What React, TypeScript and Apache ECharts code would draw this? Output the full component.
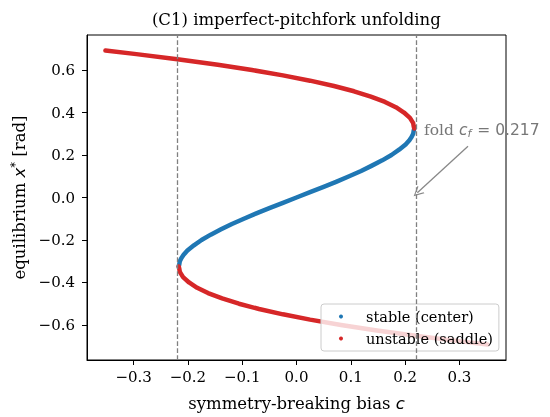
import React, { useEffect, useRef } from "react";
import * as echarts from "echarts";

// tick labels
const xTicks = [-0.3, -0.2, -0.1, 0.0, 0.1, 0.2, 0.3];
const yTicks = [-0.6, -0.4, -0.2, 0.0, 0.2, 0.4, 0.6];

// stable branch (center): bias c, equilibrium x*
const stableC = [-0.217, -0.216, -0.215, -0.212, -0.208, -0.201, -0.189, -0.175, -0.158, -0.139, -0.119, -0.097, -0.074, -0.050, -0.025, 0.0,
  0.025, 0.050, 0.074, 0.097, 0.119, 0.139, 0.158, 0.175, 0.189, 0.201, 0.208, 0.212, 0.215, 0.216, 0.217];
const stableX = [-0.325, -0.315, -0.300, -0.285, -0.270, -0.250, -0.225, -0.200, -0.175, -0.150, -0.125, -0.100, -0.075, -0.050, -0.025, 0.0,
  0.025, 0.050, 0.075, 0.100, 0.125, 0.150, 0.175, 0.200, 0.225, 0.250, 0.270, 0.285, 0.300, 0.315, 0.325];

// unstable branch (saddle), upper part
const saddleUpperC = [0.217, 0.216, 0.215, 0.209, 0.198, 0.183, 0.163, 0.137, 0.106, 0.069, 0.025, -0.025, -0.082, -0.145, -0.216, -0.295, -0.352];
const saddleUpperX = [0.325, 0.335, 0.350, 0.375, 0.400, 0.425, 0.450, 0.475, 0.500, 0.525, 0.550, 0.575, 0.600, 0.625, 0.650, 0.675, 0.692];

// unstable branch (saddle), lower part
const saddleLowerC = [-0.217, -0.216, -0.215, -0.209, -0.198, -0.183, -0.163, -0.137, -0.106, -0.069, -0.025, 0.025, 0.082, 0.145, 0.216, 0.295, 0.352];
const saddleLowerX = [-0.325, -0.335, -0.350, -0.375, -0.400, -0.425, -0.450, -0.475, -0.500, -0.525, -0.550, -0.575, -0.600, -0.625, -0.650, -0.675, -0.692];

const foldC = 0.217;
const arrowFrom = [0.316, 0.241];
const arrowTo = [0.2226, 0.022];
const annotAt = [0.235, 0.317];

const BLUE = "#1f77b4";
const RED = "#d62728";
const SERIF = "'DejaVu Serif', serif";
const SANS = "'DejaVu Sans', sans-serif";

const zip = (a: number[], b: number[]) => a.map((v, i) => [v, b[i]]);
const fmt = (v: number) => (v < -1e-9 ? "\u2212" : "") + Math.abs(v).toFixed(1);

export default function App() {
  const ref = useRef<HTMLDivElement>(null);
  useEffect(() => {
    const chart = echarts.init(ref.current!, null, { renderer: "svg" });
    const lineBase = (name: string, color: string, data: number[][], z: number) => ({
      name,
      type: "line",
      data,
      showSymbol: false,
      symbol: "circle",
      silent: true,
      z,
      itemStyle: { color },
      lineStyle: { color, width: 4.5, cap: "round", join: "round" },
    });
    const option: any = {
      animation: false,
      grid: { left: 87, right: 44, top: 35, bottom: 57, show: true, borderColor: "#000", borderWidth: 1, backgroundColor: "transparent" },
      xAxis: {
        type: "value",
        min: -0.386,
        max: 0.386,
        name: "symmetry-breaking bias {m|c}",
        nameLocation: "middle",
        nameGap: 35,
        nameTextStyle: {
          fontFamily: SERIF, fontSize: 16.5, color: "#000",
          rich: { m: { fontFamily: SANS, fontStyle: "italic", fontSize: 16.5, color: "#000" } },
        },
        axisLine: { show: true, onZero: false, lineStyle: { color: "#000", width: 1 } },
        axisTick: { show: true, length: 5, lineStyle: { color: "#000" }, customValues: xTicks },
        axisLabel: { fontFamily: SERIF, fontSize: 15, color: "#000", margin: 9, customValues: xTicks, formatter: (v: number) => fmt(v) },
        splitLine: { show: false },
      },
      yAxis: {
        type: "value",
        min: -0.765,
        max: 0.765,
        name: "equilibrium {m|x}{s|*} [rad]",
        nameLocation: "middle",
        nameGap: 45,
        nameTextStyle: {
          fontFamily: SERIF, fontSize: 16.5, color: "#000",
          rich: {
            m: { fontFamily: SANS, fontStyle: "italic", fontSize: 16.5, color: "#000" },
            s: { fontFamily: SANS, fontSize: 11.5, color: "#000", verticalAlign: "top", padding: [0, 0, 8, 0] },
          },
        },
        axisLine: { show: true, onZero: false, lineStyle: { color: "#000", width: 1 } },
        axisTick: { show: true, length: 5, lineStyle: { color: "#000" }, customValues: yTicks },
        axisLabel: { fontFamily: SERIF, fontSize: 15, color: "#000", margin: 12, customValues: yTicks, formatter: (v: number) => fmt(v) },
        splitLine: { show: false },
      },
      legend: {
        data: ["stable (center)", "unstable (saddle)"],
        orient: "vertical",
        left: 321,
        top: 304,
        icon: "circle",
        itemWidth: 4,
        itemHeight: 4,
        itemGap: 7,
        padding: [5, 6, 5, 18],
        backgroundColor: "rgba(255,255,255,0.8)",
        borderColor: "#cccccc",
        borderWidth: 1,
        borderRadius: 3,
        textStyle: { fontFamily: SERIF, fontSize: 14.5, color: "#000", padding: [0, 0, 0, 18] },
      },
      series: [
        lineBase("stable (center)", BLUE, zip(stableC, stableX), 2),
        lineBase("unstable (saddle)", RED, zip(saddleUpperC, saddleUpperX), 3),
        {
          ...lineBase("unstable (saddle)", RED, zip(saddleLowerC, saddleLowerX), 3),
          markLine: {
            silent: true,
            symbol: ["none", "none"],
            label: { show: false },
            lineStyle: { color: "#808080", width: 1.3, type: [4.7, 2.3] },
            data: [
              { xAxis: -foldC },
              { xAxis: foldC },
              [
                { coord: arrowFrom, symbol: "none", lineStyle: { color: "#888888", width: 1.3, type: "solid" } },
                { coord: arrowTo, symbol: "path://M0,10 L5,0 L10,10 L8.8,10 L5,2.4 L1.2,10 Z", symbolSize: 10 },
              ],
            ],
          },
        },
      ],
    };
    chart.setOption(option);
    const [tx, ty] = chart.convertToPixel({ gridIndex: 0 }, annotAt) as number[];
    chart.setOption({
      graphic: [
        {
          type: "text",
          x: 296.3,
          y: 19,
          style: {
            text: "(C1) imperfect-pitchfork unfolding",
            font: `16.5px ${SERIF}`,
            fill: "#000",
            align: "center",
            verticalAlign: "middle",
          },
        },
        {
          type: "text",
          x: tx,
          y: ty,
          z: 10,
          style: {
            text: "{a|fold }{m|c}{s|f}{b| = 0.217}",
            align: "left",
            verticalAlign: "middle",
            rich: {
              a: { fontFamily: SERIF, fontSize: 15.5, fill: "#777", color: "#777" },
              m: { fontFamily: SANS, fontStyle: "italic", fontSize: 15.5, fill: "#777", color: "#777" },
              s: { fontFamily: SANS, fontStyle: "italic", fontSize: 11, fill: "#777", color: "#777", verticalAlign: "bottom", padding: [6, 1, 0, 0] },
              b: { fontFamily: SANS, fontSize: 15.5, fill: "#777", color: "#777" },
            },
          },
        },
      ],
    });
    return () => chart.dispose();
  }, []);
  return <div ref={ref} style={{ position: "fixed", left: 0, top: 0, width: 550, height: 417 }} />;
}
